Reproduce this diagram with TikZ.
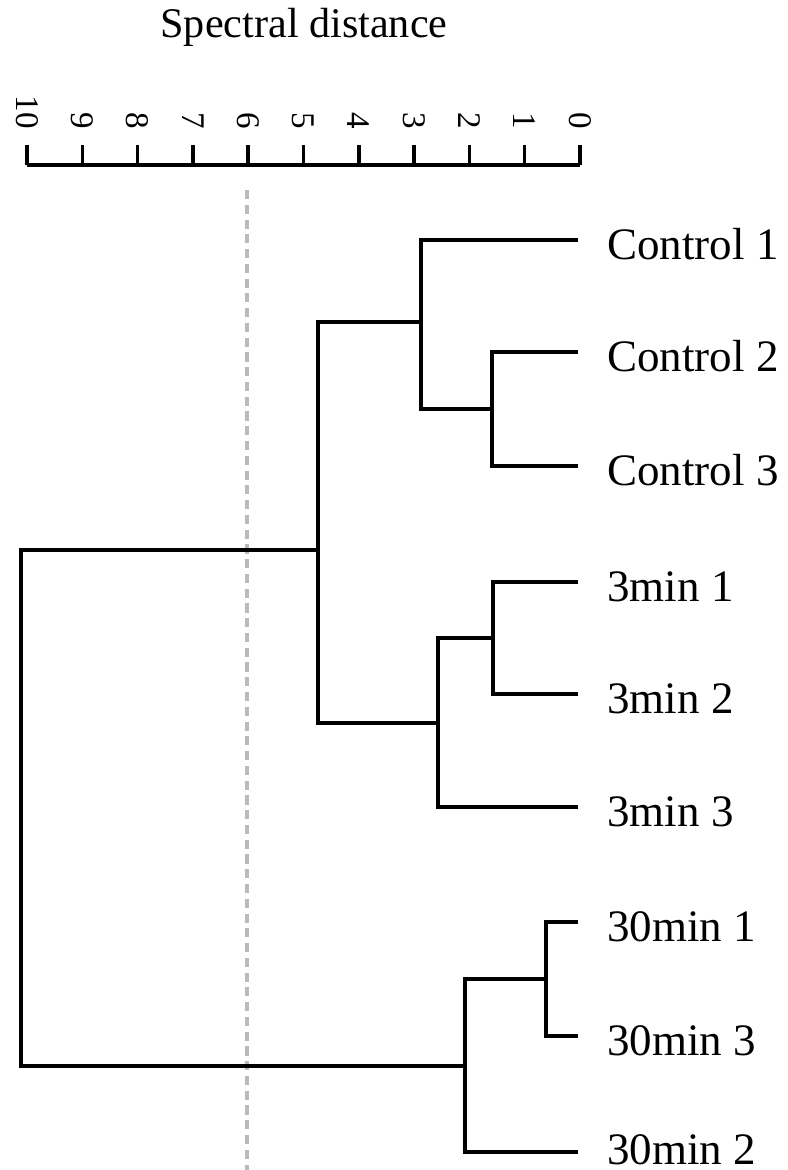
\documentclass[tikz,border=0pt]{standalone}
\usepackage{fontspec}
\setmainfont{Liberation Serif}

\tikzset{
  branch/.style={line width=2.5pt},
  leaf/.style={inner sep=0pt, anchor=base west, font=\fontsize{32}{38}\selectfont},
  ticklab/.style={inner sep=0pt, rotate=-90, anchor=east, font=\fontsize{23.5}{28}\selectfont},
  cutline/.style={line width=2.8pt, color=black!27, dash pattern=on 6.5pt off 4pt}
}

\begin{document}
\begin{tikzpicture}[x=0.025cm, y=-0.025cm]
    \useasboundingbox (0,0) rectangle (788,1170);

    % axis
    \node[inner sep=0pt, anchor=base, font=\fontsize{30}{36}\selectfont] (title) at (304,38) {Spectral distance};
    \draw[branch] (27,165) -- (580,165);
    \foreach \d in {0,...,10} {
        \draw[branch] (580-55.3*\d,165) -- (580-55.3*\d,145);
        \node[ticklab] (t\d) at (580-55.3*\d,129) {\d};
    }

    % cut at 6
    \coordinate (cutA) at (247,190);
    \coordinate (cutB) at (247,1170);
    \draw[cutline] (cutA) -- (cutB);

    % leaves
    \node[leaf] (n1) at (607,259) {Control 1};
    \node[leaf] (n2) at (607,371) {Control 2};
    \node[leaf] (n3) at (607,485) {Control 3};
    \node[leaf] (n4) at (607,601) {3min 1};
    \node[leaf] (n5) at (607,713) {3min 2};
    \node[leaf] (n6) at (607,826) {3min 3};
    \node[leaf] (n7) at (607,941) {30min 1};
    \node[leaf] (n8) at (607,1055) {30min 3};
    \node[leaf] (n9) at (607,1164) {30min 2};

    \coordinate (l1) at (578,240);
    \coordinate (l2) at (578,352);
    \coordinate (l3) at (578,466);
    \coordinate (l4) at (578,582);
    \coordinate (l5) at (578,694);
    \coordinate (l6) at (578,807);
    \coordinate (l7) at (578,922);
    \coordinate (l8) at (578,1036);
    \coordinate (l9) at (578,1152);

    % joins
    \coordinate (j23) at (492,409);
    \coordinate (j123) at (421,322);
    \coordinate (j45) at (493,638);
    \coordinate (j456) at (438,723);
    \coordinate (jA) at (318,550);
    \coordinate (j78) at (546,979);
    \coordinate (jB) at (465,1066);
    \coordinate (jR) at (21,808);

    \draw[branch] (l2) -| (j23) |- (l3);
    \draw[branch] (l1) -| (j123) |- (j23);
    \draw[branch] (l4) -| (j45) |- (l5);
    \draw[branch] (j45) -| (j456) |- (l6);
    \draw[branch] (j123) -| (jA) |- (j456);
    \draw[branch] (l7) -| (j78) |- (l8);
    \draw[branch] (j78) -| (jB) |- (l9);
    \draw[branch] (jA) -| (jR) |- (jB);
\end{tikzpicture}
\end{document}
